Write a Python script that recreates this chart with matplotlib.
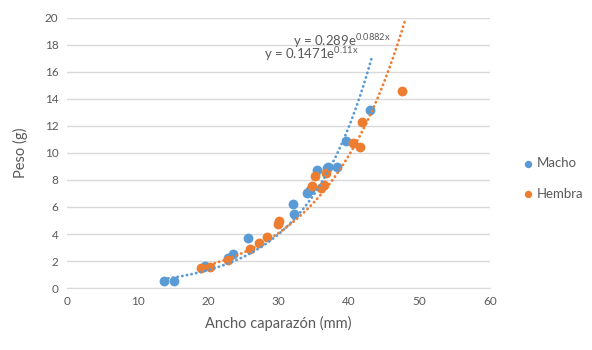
import numpy as np
import matplotlib
matplotlib.use("Agg")
import matplotlib.pyplot as plt

plt.rcParams['font.family'] = ['Lato', 'DejaVu Sans']
plt.rcParams['mathtext.fontset'] = 'custom'
plt.rcParams['mathtext.rm'] = 'Lato'

macho_x = [13.7, 15.2, 19.6, 22.9, 23.5, 25.7, 32.0, 32.2, 34.1, 34.4, 35.5, 36.8, 37.0, 38.3, 39.6, 43.0]
macho_y = [0.54, 0.54, 1.60, 2.20, 2.50, 3.68, 6.22, 5.50, 7.00, 7.25, 8.75, 8.86, 8.94, 8.99, 10.85, 13.2]
hembra_x = [19.0, 20.3, 22.8, 26.0, 27.3, 28.4, 29.9, 30.1, 34.8, 35.2, 36.0, 36.4, 36.7, 40.6, 41.6, 41.8, 47.5]
hembra_y = [1.46, 1.58, 2.10, 2.87, 3.36, 3.78, 4.75, 4.95, 7.58, 8.33, 7.40, 7.60, 8.50, 10.75, 10.45, 12.30, 14.6]

# trendline equations as displayed
macho_a, macho_b = 0.1471, 0.11
hembra_a, hembra_b = 0.289, 0.0882
macho_trend_end = 43.3
hembra_trend_end = 47.9
eq_upper = "y = 0.289e$^{\\mathregular{0.0882x}}$"
eq_lower = "y = 0.1471e$^{\\mathregular{0.11x}}$"

blue = '#5B9BD5'
orange = '#ED7D31'
grey = '#595959'

fig = plt.figure(figsize=(5.92, 3.5), dpi=100)
ax = fig.add_axes([0.113, 0.177, 0.715, 0.772])

ax.set_xlim(0, 60)
ax.set_ylim(0, 20)
ax.set_yticks(range(0, 21, 2))
ax.set_xticks(range(0, 61, 10))
ax.grid(axis='y', color='#D9D9D9', linewidth=1.0)
ax.set_axisbelow(True)
for s in ['top', 'right', 'left']:
    ax.spines[s].set_visible(False)
ax.spines['bottom'].set_color('#D9D9D9')
ax.tick_params(length=0, colors=grey, labelsize=8.5, pad=6)

ax.scatter(macho_x, macho_y, s=50, color=blue, zorder=3, label='Macho', linewidths=0)
ax.scatter(hembra_x, hembra_y, s=50, color=orange, zorder=3, label='Hembra', linewidths=0)

xm = np.linspace(min(macho_x), macho_trend_end, 200)
ax.plot(xm, macho_a * np.exp(macho_b * xm), color=blue, lw=2.0,
        linestyle=(0, (0.1, 1.6)), dash_capstyle='round', zorder=4)
xh = np.linspace(min(hembra_x), hembra_trend_end, 200)
ax.plot(xh, hembra_a * np.exp(hembra_b * xh), color=orange, lw=2.0,
        linestyle=(0, (0.1, 1.6)), dash_capstyle='round', zorder=4)

ax.text(32.0, 18.3, eq_upper, color=grey, fontsize=9.5, va='center', ha='left')
ax.text(27.9, 17.35, eq_lower, color=grey, fontsize=9.5, va='center', ha='left')

ax.set_xlabel('Ancho caparazón (mm)', color=grey, fontsize=10.5, labelpad=6)
ax.set_ylabel('Peso (g)', color=grey, fontsize=10.5, labelpad=12)

leg = fig.legend(loc='upper left', bbox_to_anchor=(0.86, 0.585), frameon=False,
                 fontsize=9.5, handletextpad=0.2, labelspacing=1.4, markerscale=0.75,
                 handlelength=1.0)
for t in leg.get_texts():
    t.set_color(grey)

fig.savefig('out.png', dpi=100)
